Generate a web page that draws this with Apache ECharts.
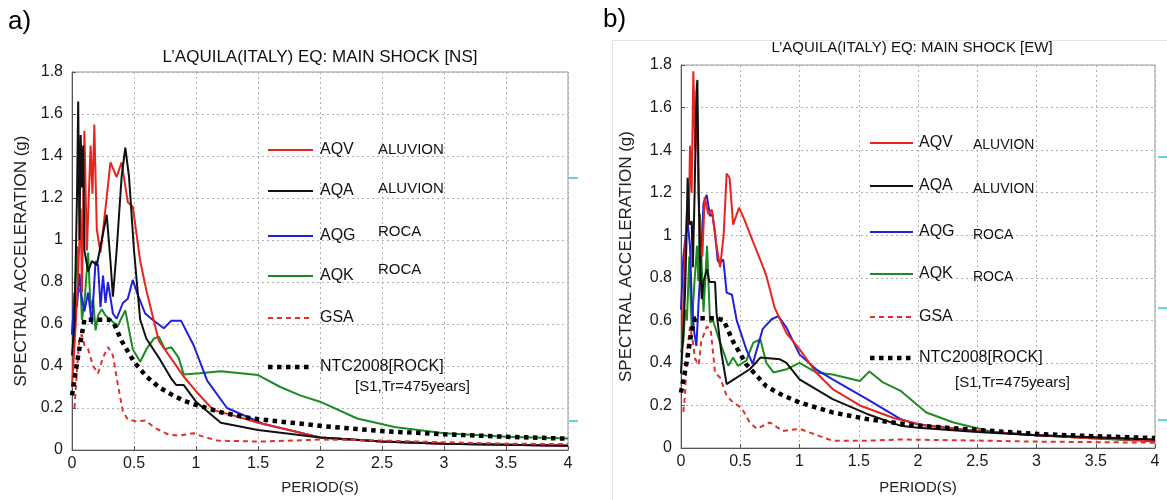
<!DOCTYPE html>
<html>
<head>
<meta charset="utf-8">
<script src="https://cdn.jsdelivr.net/npm/echarts@6/dist/echarts.min.js"></script>
<style>
  html, body { margin: 0; padding: 0; background: #fff; }
  #chart { width: 1167px; height: 500px; }
</style>
</head>
<body>
<div id="chart"></div>
<script>
// Response spectra, L'Aquila main shock. Each series is [period (s), Sa (g)].
const panelTitles = ['L\u2019AQUILA(ITALY) EQ: MAIN SHOCK [NS]', 'L\u2019AQUILA(ITALY) EQ: MAIN SHOCK [EW]'];
const panelTags = ['a)', 'b)'];
const xTicks = { min: 0, max: 4, step: 0.5 };
const yTicks = { min: 0, max: 1.8, step: 0.2 };

const legendNames = ['AQV', 'AQA', 'AQG', 'AQK', 'GSA', 'NTC2008[ROCK]'];
const legendNotes = ['ALUVION', 'ALUVION', 'ROCA', 'ROCA', '', ''];
const ntcNote = '[S1,Tr=475years]';

// ---- NS component ----
const nsAQV = [[0,0.3],[0.03,0.6],[0.05,0.85],[0.07,1.15],[0.08,0.75],[0.1,1.52],[0.12,0.95],[0.15,1.45],[0.165,1.22],[0.18,1.55],[0.2,1.05],[0.23,0.94],[0.27,1.15],[0.31,1.37],[0.36,1.3],[0.4,1.37],[0.45,1.18],[0.49,1.16],[0.55,0.9],[0.6,0.76],[0.7,0.52],[0.83,0.41],[0.9,0.35],[1.0,0.28],[1.14,0.19],[1.3,0.165],[1.5,0.13],[2,0.06],[2.5,0.04],[3,0.03],[4,0.02]];
const nsAQA = [[0,0.45],[0.02,0.6],[0.04,1.2],[0.05,1.66],[0.06,1.0],[0.07,1.5],[0.08,1.25],[0.09,1.45],[0.1,0.95],[0.13,0.85],[0.16,0.9],[0.2,0.88],[0.24,1.0],[0.28,1.12],[0.31,0.9],[0.33,0.73],[0.36,0.95],[0.4,1.3],[0.43,1.44],[0.46,1.3],[0.5,0.95],[0.55,0.62],[0.6,0.53],[0.7,0.44],[0.8,0.34],[0.84,0.31],[0.9,0.31],[1.0,0.23],[1.2,0.13],[1.5,0.095],[2,0.06],[2.5,0.04],[3,0.03],[4,0.02]];
const nsAQG = [[0,0.55],[0.02,0.75],[0.04,0.68],[0.06,0.84],[0.08,0.72],[0.1,0.66],[0.13,0.75],[0.16,0.6],[0.19,0.9],[0.21,0.88],[0.23,0.68],[0.25,0.83],[0.27,0.7],[0.29,0.8],[0.33,0.65],[0.36,0.625],[0.41,0.7],[0.45,0.72],[0.49,0.81],[0.53,0.74],[0.59,0.65],[0.65,0.62],[0.74,0.58],[0.8,0.615],[0.88,0.615],[0.98,0.5],[1.09,0.33],[1.25,0.2],[1.54,0.125],[2,0.06],[2.5,0.04],[3,0.03],[4,0.02]];
const nsAQK = [[0,0.55],[0.02,0.7],[0.04,0.97],[0.05,0.75],[0.07,0.77],[0.08,0.62],[0.1,0.7],[0.13,0.94],[0.15,0.67],[0.17,0.72],[0.19,0.57],[0.21,0.64],[0.24,0.67],[0.27,0.64],[0.33,0.61],[0.37,0.59],[0.4,0.63],[0.43,0.665],[0.49,0.48],[0.55,0.42],[0.6,0.48],[0.66,0.53],[0.7,0.54],[0.75,0.48],[0.8,0.49],[0.86,0.44],[0.9,0.36],[1.03,0.365],[1.2,0.375],[1.5,0.357],[1.68,0.3],[1.84,0.26],[2,0.23],[2.3,0.15],[2.6,0.11],[3,0.08],[3.5,0.063],[4,0.055]];
const nsGSA = [[0.02,0.2],[0.04,0.38],[0.06,0.53],[0.08,0.55],[0.1,0.5],[0.13,0.48],[0.17,0.4],[0.21,0.365],[0.25,0.44],[0.29,0.49],[0.33,0.45],[0.37,0.31],[0.41,0.185],[0.45,0.145],[0.52,0.137],[0.59,0.14],[0.67,0.105],[0.78,0.073],[0.86,0.068],[0.98,0.08],[1.05,0.065],[1.17,0.045],[1.5,0.04],[1.8,0.045],[2,0.05],[2.5,0.045],[3,0.037],[3.5,0.03],[4,0.028]];
const nsNTC = [[0,0.26],[0.05,0.45],[0.1,0.62],[0.15,0.62],[0.2,0.62],[0.25,0.62],[0.3,0.62],[0.34,0.6],[0.4,0.52],[0.5,0.42],[0.6,0.35],[0.7,0.3],[0.8,0.265],[0.9,0.235],[1.0,0.215],[1.2,0.18],[1.4,0.155],[1.6,0.14],[1.8,0.128],[2.0,0.115],[2.5,0.09],[3,0.075],[3.5,0.063],[4,0.054]];

// ---- EW component ----
const ewAQV = [[0.01,0.5],[0.03,0.85],[0.05,1.12],[0.065,1.05],[0.076,1.42],[0.09,1.2],[0.104,1.77],[0.12,1.4],[0.135,1.6],[0.146,1.22],[0.16,0.95],[0.18,0.9],[0.2,1.18],[0.23,1.1],[0.26,1.12],[0.3,0.95],[0.33,0.85],[0.36,1.0],[0.385,1.29],[0.41,1.27],[0.44,1.05],[0.49,1.13],[0.53,1.08],[0.6,0.98],[0.69,0.855],[0.72,0.81],[0.79,0.66],[0.89,0.54],[1.0,0.465],[1.14,0.355],[1.28,0.277],[1.51,0.2],[1.8,0.14],[2.07,0.105],[2.5,0.08],[3,0.06],[3.5,0.045],[4,0.035]];
const ewAQA = [[0,0.35],[0.02,0.55],[0.034,0.73],[0.045,0.95],[0.056,1.27],[0.07,1.05],[0.09,1.065],[0.1,0.85],[0.115,1.2],[0.13,1.67],[0.138,1.73],[0.15,1.2],[0.16,0.89],[0.175,0.7],[0.19,0.785],[0.22,0.84],[0.24,0.78],[0.287,0.78],[0.3,0.636],[0.34,0.45],[0.385,0.3],[0.44,0.32],[0.58,0.37],[0.67,0.425],[0.835,0.417],[0.89,0.4],[1.0,0.323],[1.28,0.23],[1.57,0.16],[1.85,0.105],[2,0.095],[2.5,0.075],[3,0.06],[3.5,0.05],[4,0.04]];
const ewAQG = [[0,0.65],[0.02,0.9],[0.04,1.0],[0.056,1.06],[0.076,0.95],[0.09,0.7],[0.11,0.55],[0.13,0.48],[0.15,0.7],[0.17,0.9],[0.19,1.15],[0.217,1.19],[0.245,1.09],[0.265,1.1],[0.287,1.01],[0.31,0.88],[0.33,0.87],[0.357,0.886],[0.385,0.73],[0.43,0.72],[0.47,0.6],[0.55,0.465],[0.605,0.395],[0.69,0.56],[0.765,0.605],[0.82,0.62],[0.89,0.566],[1.0,0.44],[1.14,0.37],[1.28,0.323],[1.57,0.23],[1.85,0.137],[2,0.11],[2.5,0.08],[3,0.06],[4,0.035]];
const ewAQK = [[0,0.45],[0.02,0.5],[0.035,0.65],[0.05,0.6],[0.07,0.9],[0.09,0.55],[0.11,0.75],[0.135,0.95],[0.146,0.785],[0.16,1.1],[0.175,0.85],[0.19,0.64],[0.22,0.95],[0.245,0.59],[0.27,0.6],[0.33,0.495],[0.4,0.386],[0.44,0.425],[0.48,0.386],[0.55,0.41],[0.61,0.495],[0.67,0.51],[0.72,0.4],[0.78,0.355],[0.89,0.37],[1.0,0.4],[1.14,0.355],[1.28,0.345],[1.51,0.315],[1.59,0.36],[1.7,0.31],[1.85,0.27],[2.07,0.167],[2.3,0.12],[2.63,0.075],[3,0.06],[3.5,0.045],[4,0.03]];
const ewGSA = [[0.02,0.17],[0.034,0.25],[0.05,0.45],[0.076,0.57],[0.1,0.5],[0.118,0.42],[0.15,0.39],[0.17,0.5],[0.217,0.57],[0.25,0.56],[0.287,0.355],[0.33,0.33],[0.385,0.245],[0.43,0.22],[0.48,0.2],[0.52,0.18],[0.58,0.12],[0.64,0.09],[0.75,0.12],[0.86,0.08],[1.0,0.09],[1.1,0.07],[1.28,0.034],[1.57,0.034],[1.85,0.04],[2.5,0.035],[3,0.03],[4,0.025]];
const ewNTC = [[0,0.26],[0.05,0.41],[0.09,0.55],[0.12,0.61],[0.2,0.61],[0.3,0.61],[0.36,0.6],[0.44,0.5],[0.55,0.394],[0.72,0.29],[0.85,0.25],[1.0,0.214],[1.28,0.167],[1.57,0.136],[1.85,0.115],[2,0.105],[2.5,0.085],[3,0.066],[3.5,0.055],[4,0.047]];

const panelData = [
  [nsAQV, nsAQA, nsAQG, nsAQK, nsGSA, nsNTC],
  [ewAQV, ewAQA, ewAQG, ewAQK, ewGSA, ewNTC]
];

// Line styles shared by both panels, in legend order
const styles = [
  { color: '#e8251d', width: 2, type: 'solid' },
  { color: '#111111', width: 2, type: 'solid' },
  { color: '#1f1fe0', width: 2, type: 'solid' },
  { color: '#1c8c22', width: 2, type: 'solid' },
  { color: '#e2312b', width: 2, type: [5, 4] },
  { color: '#000000', width: 4.5, type: [4.5, 4.5] }
];
const drawOrder = [3, 2, 0, 1, 4, 5];

const FONT = 'Liberation Sans, Arial, sans-serif';

const grids = [
  { left: 72, top: 72, right: 599, bottom: 48 },
  { left: 681, top: 65, right: 12, bottom: 51 }
];

const chart = echarts.init(document.getElementById('chart'), null, { renderer: 'canvas' });

function axisX(i) {
  return {
    type: 'value', gridIndex: i, min: xTicks.min, max: xTicks.max, interval: xTicks.step,
    name: 'PERIOD(S)', nameLocation: 'middle', nameGap: i === 0 ? 30 : 32,
    nameTextStyle: { fontFamily: FONT, fontSize: 15, color: '#222' },
    axisLine: { show: true, lineStyle: { color: '#555', width: 1 } },
    axisTick: { show: true, inside: true, length: 4, lineStyle: { color: '#555' } },
    axisLabel: { fontFamily: FONT, fontSize: 16, color: '#1a1a1a', margin: 6 },
    splitLine: { show: true, lineStyle: { color: '#b0b0b0', type: [2, 3], width: 1 } }
  };
}
function axisY(i) {
  return {
    type: 'value', gridIndex: i, min: yTicks.min, max: yTicks.max, interval: yTicks.step,
    name: 'SPECTRAL ACCELERATION (g)', nameLocation: 'middle', nameGap: i === 0 ? 42 : 46,
    nameRotate: 90,
    nameTextStyle: { fontFamily: FONT, fontSize: 17, color: '#222' },
    axisLine: { show: true, lineStyle: { color: '#555', width: 1 } },
    axisTick: { show: true, inside: true, length: 4, lineStyle: { color: '#555' } },
    axisLabel: { fontFamily: FONT, fontSize: 16, color: '#1a1a1a', margin: 9 },
    splitLine: { show: true, lineStyle: { color: '#b0b0b0', type: [2, 3], width: 1 } }
  };
}

const series = [];
panelData.forEach((set, p) => {
  drawOrder.forEach(k => {
    series.push({
      type: 'line', name: legendNames[k] + p, xAxisIndex: p, yAxisIndex: p,
      data: set[k], showSymbol: false, symbol: 'none', smooth: false,
      lineStyle: { color: styles[k].color, width: styles[k].width, type: styles[k].type, cap: 'butt' },
      z: 2 + drawOrder.indexOf(k), animation: false
    });
  });
});

// In-plot legend blocks
const legendLayout = [
  { lineX: [268, 313], textX: 320, noteX: 378, rows: [150, 191, 236, 276, 318, 367], noteDy: [0, -2, -4, -6, 0, 0], noteSize: 15, textSize: 16, subX: 355, subY: 387 },
  { lineX: [870, 913], textX: 919, noteX: 973, rows: [143, 186, 232, 274, 317, 358], noteDy: [2, 3, 3, 3, 0, 0], noteSize: 14, textSize: 16, subX: 955, subY: 383 }
];
const graphics = [];
legendLayout.forEach(L => {
  legendNames.forEach((n, k) => {
    const s = styles[k];
    graphics.push({
      type: 'line', shape: { x1: L.lineX[0], y1: L.rows[k], x2: L.lineX[1], y2: L.rows[k] },
      style: { stroke: s.color, lineWidth: s.width, lineDash: Array.isArray(s.type) ? s.type : null }, z: 50
    });
    graphics.push({
      type: 'text', x: L.textX, y: L.rows[k], z: 50,
      style: { text: n, font: L.textSize + 'px ' + FONT, fill: '#111', verticalAlign: 'middle' }
    });
    if (legendNotes[k]) {
      graphics.push({
        type: 'text', x: L.noteX, y: L.rows[k] + L.noteDy[k], z: 50,
        style: { text: legendNotes[k], font: L.noteSize + 'px ' + FONT, fill: '#111', verticalAlign: 'middle' }
      });
    }
  });
  graphics.push({
    type: 'text', x: L.subX, y: L.subY, z: 50,
    style: { text: ntcNote, font: '15px ' + FONT, fill: '#111', verticalAlign: 'middle' }
  });
});

// Panel tags and titles
graphics.push({ type: 'text', x: 8, y: 22, style: { text: panelTags[0], font: '26px ' + FONT, fill: '#000', verticalAlign: 'middle' } });
graphics.push({ type: 'text', x: 603, y: 20, style: { text: panelTags[1], font: '26px ' + FONT, fill: '#000', verticalAlign: 'middle' } });
graphics.push({ type: 'text', x: 320, y: 57, style: { text: panelTitles[0], font: '17px ' + FONT, fill: '#111', align: 'center', verticalAlign: 'middle' } });
graphics.push({ type: 'text', x: 912, y: 48, style: { text: panelTitles[1], font: '15px ' + FONT, fill: '#111', align: 'center', verticalAlign: 'middle' } });

// Frame round the second panel and the small cyan edge marks
graphics.push({ type: 'rect', shape: { x: 612.5, y: 40.5, width: 560, height: 470 }, style: { fill: 'none', stroke: '#e4e4e4', lineWidth: 1 }, z: -1 });
[[569, 178], [569, 421]].forEach(c => graphics.push({ type: 'line', shape: { x1: c[0], y1: c[1], x2: c[0] + 9, y2: c[1] }, style: { stroke: '#5fd6dc', lineWidth: 2 } }));
[[1158, 157], [1158, 308], [1158, 420]].forEach(c => graphics.push({ type: 'line', shape: { x1: c[0], y1: c[1], x2: c[0] + 9, y2: c[1] }, style: { stroke: '#5fd6dc', lineWidth: 2 } }));

chart.setOption({
  animation: false,
  backgroundColor: '#ffffff',
  grid: grids.map(g => Object.assign({ show: true, borderColor: '#999', borderWidth: 1, backgroundColor: 'transparent' }, g)),
  xAxis: [axisX(0), axisX(1)],
  yAxis: [axisY(0), axisY(1)],
  series: series,
  graphic: graphics
});
</script>
</body>
</html>
